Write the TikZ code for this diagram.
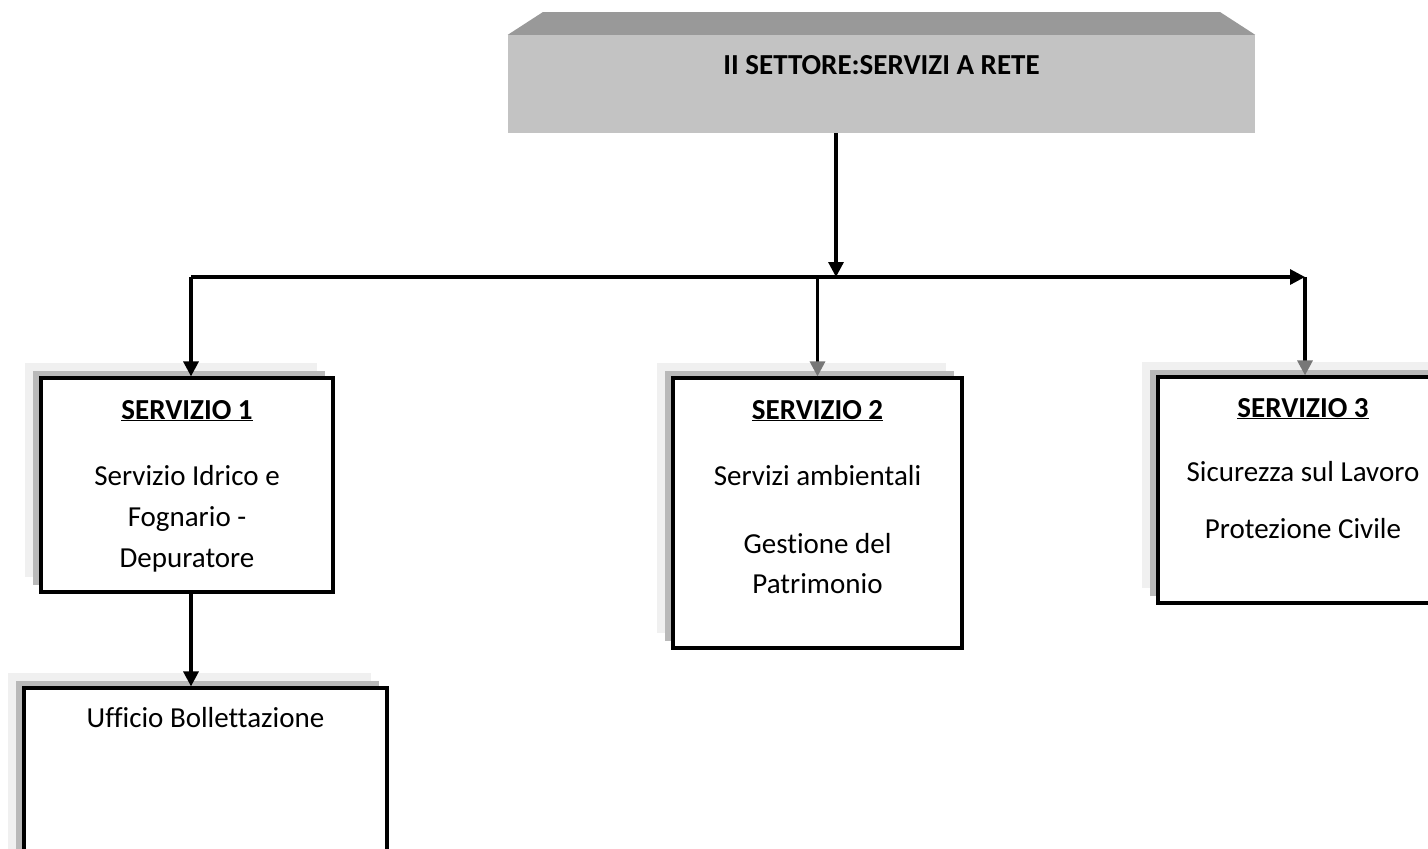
\documentclass[tikz,border=0pt]{standalone}
\usepackage{fontspec}
\setmainfont{Carlito}[Ligatures={NoCommon}]
\usetikzlibrary{arrows.meta,shadows}
\definecolor{frontgray}{HTML}{C3C3C3}
\definecolor{bevelgray}{HTML}{999999}
\definecolor{shlight}{HTML}{F0F0F0}
\definecolor{shdark}{HTML}{B9B9B9}
\definecolor{headgray}{HTML}{777777}
\tikzset{
  box/.style={draw=black, line width=3.2pt, fill=white, inner sep=0pt,
    general shadow={fill=shlight, shadow xshift=-16pt, shadow yshift=15pt},
    general shadow={fill=shdark, shadow xshift=-8pt, shadow yshift=7.5pt}},
  txt/.style={anchor=base, inner sep=0pt, font=\fontsize{29}{35}\selectfont},
  hd/.style={anchor=base, inner sep=0pt, font=\fontsize{29}{35}\selectfont\bfseries},
  arr/.style={line width=3.2pt, -{Triangle[length=15pt,width=15pt]}},
  arrg/.style={line width=3.2pt, -{Triangle[length=15pt,width=15pt,color=headgray]}}
}
\begin{document}
\begin{tikzpicture}[x=1pt,y=-1pt]
\path[use as bounding box] (0,0) rectangle (1428,849);
\clip (0,0) rectangle (1428,849);
\fill[white] (0,0) rectangle (1428,849);

% top box
\node[fill=frontgray, minimum width=747pt, minimum height=98pt, inner sep=0pt] (top) at (881.5,84) {};
\fill[bevelgray] (top.north west) -- (543,12) -- (1220,12) -- (top.north east) -- cycle;
\node[hd] (toptext) at (881.5,74) {II SETTORE:SERVIZI A RETE};

% boxes
\node[box, minimum width=292pt, minimum height=214pt] (b1) at (187,485) {};
\node[box, minimum width=289pt, minimum height=270pt] (b2) at (817.5,513) {};
\node[box, minimum width=290pt, minimum height=226pt] (b3) at (1303,490) {};
\node[box, minimum width=363pt, minimum height=240pt] (b4) at (205.5,808) {};

% texts box 1
\node[hd] (t1a) at (187,419) {\underline{SERVIZIO 1}};
\node[txt] (t1b) at (187,485) {Servizio Idrico e};
\node[txt] (t1c) at (187,526) {Fognario -};
\node[txt] (t1d) at (187,567) {Depuratore};
% texts box 2
\node[hd] (t2a) at (817.5,419) {\underline{SERVIZIO 2}};
\node[txt] (t2b) at (817.5,485) {Servizi ambientali};
\node[txt] (t2c) at (817.5,553) {Gestione del};
\node[txt] (t2d) at (817.5,593) {Patrimonio};
% texts box 3
\node[hd] (t3a) at (1303,417) {\underline{SERVIZIO 3}};
\node[txt] (t3b) at (1303,481) {Sicurezza sul Lavoro};
\node[txt] (t3c) at (1303,538) {Protezione Civile};
% text box 4
\node[txt] (t4a) at (205.5,727) {Ufficio Bollettazione};

% connectors
\coordinate (j) at (836,277);
\coordinate (bl) at (191,277);
\coordinate (br) at (1305,277);
\draw[arr] (top.south -| j) -- (j);
\draw[arr] (bl) -- (br);
\draw[arr] (bl) -- (bl |- b1.north);
\draw[arrg] (b2.north |- bl) -- (b2.north);
\draw[arrg] (br) -- (br |- b3.north);
\draw[arr] (bl |- b1.south) -- (bl |- b4.north);
\end{tikzpicture}
\end{document}
